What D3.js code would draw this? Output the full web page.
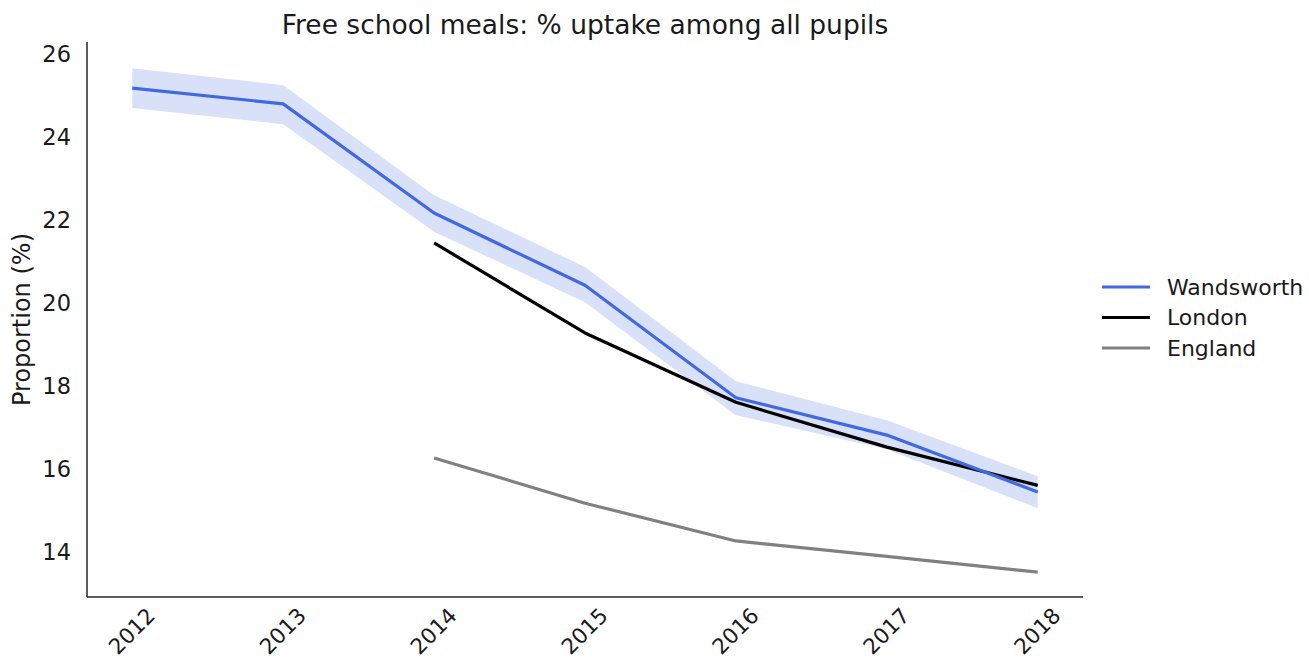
<!DOCTYPE html>
<html>
<head>
<meta charset="utf-8">
<script src="https://cdn.jsdelivr.net/npm/d3@7"></script>
<style>
  html, body { margin: 0; padding: 0; background: #fff; }
  svg { display: block; font-family: "DejaVu Sans", sans-serif; }
</style>
</head>
<body>
<svg id="chart" width="1309" height="662"></svg>
<script>
// Free school meals uptake, % of all pupils
const years = ["2012", "2013", "2014", "2015", "2016", "2017", "2018"];
const wandsworth = [25.18, 24.80, 22.17, 20.43, 17.72, 16.82, 15.45];
const wandsworthLow = [24.70, 24.31, 21.72, 20.02, 17.30, 16.48, 15.06];
const wandsworthHigh = [25.66, 25.25, 22.60, 20.87, 18.12, 17.18, 15.83];
const londonYears = ["2014", "2015", "2016", "2017", "2018"];
const london = [21.45, 19.28, 17.61, 16.53, 15.61];
const englandYears = ["2014", "2015", "2016", "2017", "2018"];
const england = [16.27, 15.18, 14.27, 13.90, 13.52];
const yTicks = [14, 16, 18, 20, 22, 24, 26];
const seriesNames = ["Wandsworth", "London", "England"];
const seriesColors = ["#4169e1", "#000000", "#808080"];

const svg = d3.select("#chart");
const plot = { left: 87, right: 1083, top: 42, bottom: 597 };

const x = d3.scalePoint().domain(years)
  .range([plot.left, plot.right]).padding(0.3);
const y = d3.scaleLinear().domain([12.92, 26.29])
  .range([plot.bottom, plot.top]);

// Confidence band for Wandsworth
const area = d3.area()
  .x((d, i) => x(years[i]))
  .y0((d, i) => y(wandsworthLow[i]))
  .y1((d, i) => y(wandsworthHigh[i]));
svg.append("path")
  .datum(wandsworth)
  .attr("d", area)
  .attr("fill", "#4169e1")
  .attr("fill-opacity", 0.2);

const line = d3.line().x(d => x(d[0])).y(d => y(d[1]));

function drawSeries(cats, vals, color) {
  svg.append("path")
    .datum(cats.map((c, i) => [c, vals[i]]))
    .attr("d", line)
    .attr("fill", "none")
    .attr("stroke", color)
    .attr("stroke-width", 3.2)
    .attr("stroke-linejoin", "round");
}
drawSeries(englandYears, england, seriesColors[2]);
drawSeries(londonYears, london, seriesColors[1]);
drawSeries(years, wandsworth, seriesColors[0]);

// Axes (spines only, no tick marks)
const yAxis = svg.append("g")
  .attr("transform", `translate(${plot.left},0)`)
  .call(d3.axisLeft(y).tickValues(yTicks).tickSize(0).tickPadding(16).tickFormat(d3.format("d")));
yAxis.select(".domain").attr("d", `M0,${plot.top}V${plot.bottom}`).attr("stroke", "#262626").attr("stroke-width", 1.5);
yAxis.selectAll("text").attr("font-size", 22.5).attr("fill", "#1a1a1a").attr("font-family", "DejaVu Sans");

const xAxis = svg.append("g")
  .attr("transform", `translate(0,${plot.bottom})`)
  .call(d3.axisBottom(x).tickSize(0));
xAxis.select(".domain").attr("d", `M${plot.left},0H${plot.right}`).attr("stroke", "#262626").attr("stroke-width", 1.5);
xAxis.selectAll("text")
  .attr("font-size", 21.5).attr("fill", "#1a1a1a").attr("font-family", "DejaVu Sans")
  .attr("text-anchor", "middle")
  .attr("dy", null)
  .attr("y", 0)
  .attr("dominant-baseline", "central")
  .attr("transform", "translate(-1,34) rotate(-45)");

// Title
svg.append("text")
  .attr("x", (plot.left + plot.right) / 2)
  .attr("y", 34)
  .attr("text-anchor", "middle")
  .attr("font-size", 26.5)
  .attr("fill", "#1a1a1a")
  .text("Free school meals: % uptake among all pupils");

// Y axis label
svg.append("text")
  .attr("transform", `translate(30,${(plot.top + plot.bottom) / 2}) rotate(-90)`)
  .attr("text-anchor", "middle")
  .attr("font-size", 24)
  .attr("fill", "#1a1a1a")
  .text("Proportion (%)");

// Legend
const legend = svg.append("g").attr("transform", "translate(1102,287)");
seriesNames.forEach((name, i) => {
  const g = legend.append("g").attr("transform", `translate(0,${i * 30.5})`);
  g.append("line").attr("x1", 0).attr("x2", 48).attr("y1", 0).attr("y2", 0)
    .attr("stroke", seriesColors[i]).attr("stroke-width", 3.2);
  g.append("text").attr("x", 65).attr("y", 0).attr("dy", "0.35em")
    .attr("font-size", 22).attr("fill", "#1a1a1a").text(name);
});
</script>
</body>
</html>
